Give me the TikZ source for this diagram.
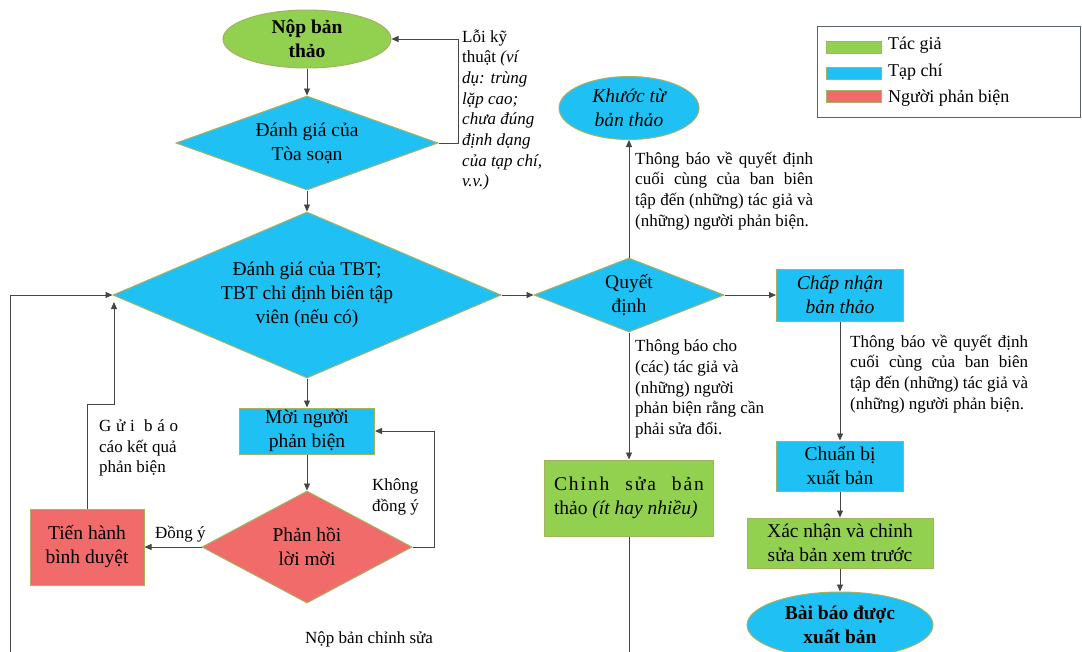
\documentclass[tikz,border=0pt]{standalone}
\usepackage{fontspec}
\setmainfont{Liberation Serif}
\usetikzlibrary{shapes.geometric,arrows.meta}
\definecolor{cgreen}{HTML}{92D050}
\definecolor{cblue}{HTML}{1FC1F5}
\definecolor{cred}{HTML}{F26B6B}
\definecolor{cedge}{HTML}{A4B262}
\definecolor{cline}{HTML}{454545}
\definecolor{cframe}{HTML}{5A6470}
\newcommand{\mynodefont}{\fontsize{19.5}{24}\selectfont}
\newcommand{\mynotefont}{\fontsize{17}{20.7}\selectfont}
\newcommand{\myjust}[1]{\makebox[178pt][s]{#1}}
\begin{document}
\begin{tikzpicture}[x=1pt,y=-1pt,
  shapebase/.style={draw=cedge, line width=1pt, inner sep=0pt, align=center, font=\mynodefont},
  boxnode/.style={shapebase, rectangle},
  ellnode/.style={shapebase, ellipse},
  dianode/.style={shapebase, diamond},
  intext/.style={align=center, inner sep=0pt, font=\mynodefont},
  note/.style={inner sep=0pt, align=left, font=\mynotefont, anchor=west},
  conn/.style={draw=cline, line width=0.9pt},
  arr/.style={conn, -{Triangle[length=7pt,width=6pt]}},
  swatch/.style={draw=cedge, line width=0.6pt, minimum width=55pt, minimum height=12pt, inner sep=0pt},
  legtext/.style={inner sep=0pt, anchor=west, font=\fontsize{18}{20}\selectfont},
]
\useasboundingbox (0,0) rectangle (1082,651);
\clip (0,0) rectangle (1082,651);
\fill[white] (0,0) rectangle (1082,651);

% nodes
\node[ellnode, fill=cgreen, minimum width=168pt, minimum height=58pt,
  label={[intext, font=\mynodefont\bfseries]center:{Nộp bản\\thảo}}] (n1) at (307,39) {};
\node[dianode, fill=cblue, minimum width=262pt, minimum height=94pt,
  label={[intext]center:{Đánh giá của\\Tòa soạn}}] (n2) at (307,143) {};
\node[dianode, fill=cblue, minimum width=388pt, minimum height=166pt,
  label={[intext]center:{Đánh giá của TBT;\\TBT chỉ định biên tập\\viên (nếu có)}}] (n3) at (307,295) {};
\node[dianode, fill=cblue, minimum width=190pt, minimum height=74pt,
  label={[intext]center:{Quyết\\định}}] (n4) at (629,295) {};
\node[ellnode, fill=cblue, minimum width=140pt, minimum height=63pt,
  label={[intext, font=\mynodefont\itshape]center:{Khước từ\\bản thảo}}] (n5) at (629,108) {};
\node[boxnode, fill=cblue, minimum width=127pt, minimum height=52pt, font=\mynodefont\itshape] (n6) at (840,295) {Chấp nhận\\bản thảo};
\node[boxnode, fill=cblue, minimum width=127pt, minimum height=50pt] (n7) at (840,466) {Chuẩn bị\\xuất bản};
\node[boxnode, fill=cgreen, minimum width=186pt, minimum height=50pt] (n8) at (840,543) {Xác nhận và chỉnh\\sửa bản xem trước};
\node[ellnode, fill=cblue, minimum width=186pt, minimum height=66pt,
  label={[intext, font=\mynodefont\bfseries]center:{Bài báo được\\xuất bản}}] (n9) at (840,625) {};
\node[boxnode, fill=cblue, minimum width=135pt, minimum height=46pt] (n10) at (307,431) {Mời người\\phản biện};
\node[dianode, fill=cred, minimum width=210pt, minimum height=112pt,
  label={[intext]center:{Phản hồi\\lời mời}}] (n11) at (307,547) {};
\node[boxnode, fill=cred, minimum width=114pt, minimum height=76pt] (n12) at (87,547) {Tiến hành\\bình duyệt};
\node[boxnode, fill=cgreen, minimum width=169pt, minimum height=76pt] (n13) at (629,498)
  {\makebox[150pt][s]{\addfontfeature{LetterSpace=10}Chỉnh sửa bản}\\\makebox[150pt][l]{thảo \textit{(ít hay nhiều)}}};

% helper coordinates
\coordinate (r1) at (458,0);
\coordinate (r2) at (434,0);
\coordinate (g1) at (0,404);
\coordinate (g2) at (114,302);
\coordinate (b1) at (0,665);
\coordinate (b2) at (10,665);

% connectors
\draw[arr] (n1.south) -- (n2.north);
\draw[arr] (n2.east) -- (n2.east -| r1) |- (n1.east);
\draw[arr] (n2.south) -- (n3.north);
\draw[arr] (n3.east) -- (n4.west);
\draw[arr] (n4.north) -- (n5.south);
\draw[arr] (n4.east) -- (n6.west);
\draw[arr] (n6.south) -- (n7.north);
\draw[arr] (n7.south) -- (n8.north);
\draw[arr] (n8.south) -- (n9.north);
\draw[arr] (n4.south) -- (n13.north);
\draw[arr] (n3.south) -- (n10.north);
\draw[arr] (n10.south) -- (n11.north);
\draw[arr] (n11.east) -- (n11.east -| r2) |- (n10.east);
\draw[arr] (n11.west) -- (n12.east);
\draw[arr] (n12.north) -- (n12.north |- g1) -| (g2);
\draw[arr] (n13.south) -- (n13.south |- b1) -- (b2) |- (n3.west);

% annotations
\node[note] (a1) at (462,110) {Lỗi kỹ\\thuật \textit{(ví}\\\textit{dụ: trùng}\\\textit{lặp cao;}\\\textit{chưa đúng}\\\textit{định dạng}\\\textit{của tạp chí,}\\\textit{v.v.)}};
\node[note] (a2) at (635,191) {\myjust{Thông báo về quyết định}\\\myjust{cuối cùng của ban biên}\\\myjust{tập đến (những) tác giả và}\\(những) người phản biện.};
\node[note] (a3) at (635,389) {Thông báo cho\\(các) tác giả và\\(những) người\\phản biện rằng cần\\phải sửa đổi.};
\node[note] (a4) at (850,374) {\myjust{Thông báo về quyết định}\\\myjust{cuối cùng của ban biên}\\\myjust{tập đến (những) tác giả và}\\(những) người phản biện.};
\node[note] (a5) at (99,448) {\makebox[79pt][s]{G\hfil ử\hfil i\hfil\hfil b\hfil á\hfil o}\\cáo kết quả\\phản biện};
\node[note] (a6) at (372,497) {Không\\đồng ý};
\node[note] (a7) at (155,534) {Đồng ý};
\node[note] (a8) at (305,639) {Nộp bản chỉnh sửa};

% legend
\node[draw=cframe, line width=0.8pt, minimum width=263pt, minimum height=91pt, inner sep=0pt, anchor=north west] (leg) at (817,26) {};
\node[swatch, fill=cgreen] (s1) at (853.5,47) {};
\node[swatch, fill=cblue] (s2) at (853.5,73) {};
\node[swatch, fill=cred] (s3) at (853.5,96) {};
\node[legtext] (l1) at (888,45) {Tác giả};
\node[legtext] (l2) at (888,72) {Tạp chí};
\node[legtext] (l3) at (888,98) {Người phản biện};
\end{tikzpicture}
\end{document}
